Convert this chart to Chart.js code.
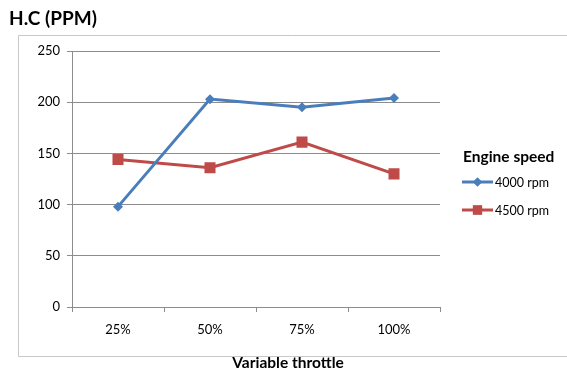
<!DOCTYPE html>
<html>
<head>
<meta charset="utf-8">
<script src="https://cdn.jsdelivr.net/npm/chart.js@4.4.0/dist/chart.umd.min.js"></script>
<style>
  html, body { margin: 0; padding: 0; background: #fff; }
  #wrap { width: 567px; height: 371px; }
</style>
</head>
<body>
<div id="wrap"><canvas id="hcChart" width="567" height="371"></canvas></div>
<script>
  // H.C emissions vs throttle opening
  const chartTitle = 'H.C (PPM)';
  const xTitle = 'Variable throttle';
  const legendTitle = 'Engine speed';
  const throttle = ['25%', '50%', '75%', '100%'];
  const rpm4000 = [98, 203, 195, 204];
  const rpm4500 = [144, 136, 161, 130];
  const seriesNames = ['4000 rpm', '4500 rpm'];

  const FONT = 'Lato, "Open Sans", sans-serif';
  const BLUE = '#4a7ebb';
  const RED = '#be4b48';

  // frame, title, axis title and legend drawn by hand
  const decorations = {
    id: 'decorations',
    beforeDraw(chart) {
      const ctx = chart.ctx;
      ctx.save();
      ctx.strokeStyle = '#c8c8c8';
      ctx.lineWidth = 1;
      ctx.beginPath();
      ctx.moveTo(567, 35.5);
      ctx.lineTo(18.5, 35.5);
      ctx.lineTo(18.5, 356.5);
      ctx.lineTo(567, 356.5);
      ctx.stroke();
      ctx.restore();
    },
    afterDraw(chart) {
      const ctx = chart.ctx;
      ctx.save();
      ctx.fillStyle = '#000';
      ctx.textBaseline = 'middle';
      ctx.font = 'bold 19px ' + FONT;
      ctx.textAlign = 'left';
      ctx.fillText(chartTitle, 9, 19);

      ctx.font = 'bold 15.5px ' + FONT;
      ctx.textAlign = 'center';
      ctx.fillText(xTitle, 288, 363);

      ctx.textAlign = 'left';
      ctx.fillText(legendTitle, 463, 157);

      const items = [
        { y: 182, color: BLUE, style: 'rectRot', r: 4.5 },
        { y: 210, color: RED, style: 'rect', r: 6.5 }
      ];
      ctx.font = '12.5px ' + FONT;
      items.forEach((it, i) => {
        ctx.strokeStyle = it.color;
        ctx.lineWidth = 3;
        ctx.beginPath();
        ctx.moveTo(462, it.y);
        ctx.lineTo(493, it.y);
        ctx.stroke();
        ctx.fillStyle = it.color;
        Chart.helpers.drawPoint(ctx, { pointStyle: it.style, radius: it.r, borderWidth: 0 }, 477.5, it.y);
        ctx.fill();
        ctx.fillStyle = '#000';
        ctx.fillText(seriesNames[i], 495, it.y + 1);
      });
      ctx.restore();
    }
  };

  new Chart(document.getElementById('hcChart'), {
    type: 'line',
    data: {
      labels: throttle,
      datasets: [
        {
          label: seriesNames[0],
          data: rpm4000,
          borderColor: BLUE,
          backgroundColor: BLUE,
          borderWidth: 3,
          pointStyle: 'rectRot',
          pointRadius: 5,
          pointBorderWidth: 0,
          tension: 0
        },
        {
          label: seriesNames[1],
          data: rpm4500,
          borderColor: RED,
          backgroundColor: RED,
          borderWidth: 3,
          pointStyle: 'rect',
          pointRadius: 7.8,
          pointBorderWidth: 0,
          tension: 0
        }
      ]
    },
    options: {
      responsive: false,
      animation: false,
      layout: { padding: { left: 0, right: 127, top: 51, bottom: 0 } },
      plugins: {
        legend: { display: false },
        title: { display: false },
        tooltip: { enabled: false }
      },
      scales: {
        x: {
          offset: true,
          afterFit: (s) => { s.height = 64; },
          grid: {
            offset: true,
            drawOnChartArea: false,
            drawTicks: true,
            tickLength: 5,
            color: '#8c8c8c'
          },
          border: { color: '#8c8c8c' },
          ticks: {
            padding: 10,
            color: '#000',
            font: { family: FONT, size: 13 }
          }
        },
        y: {
          min: 0,
          max: 250,
          afterFit: (s) => { s.width = 72; },
          grid: {
            color: '#8c8c8c',
            tickLength: 5
          },
          border: { color: '#8c8c8c' },
          ticks: {
            stepSize: 50,
            padding: 7,
            color: '#000',
            font: { family: FONT, size: 13 }
          }
        }
      }
    },
    plugins: [decorations]
  });
</script>
</body>
</html>
